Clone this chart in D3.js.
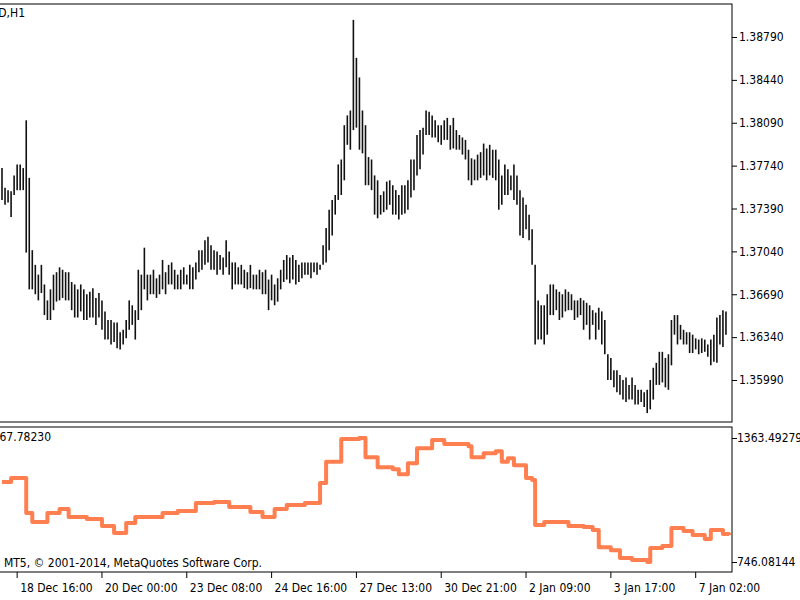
<!DOCTYPE html>
<html>
<head>
<meta charset="utf-8">
<script src="https://cdn.jsdelivr.net/npm/d3@7"></script>
<style>
  body { margin: 0; background: #fff; }
  text { font-family: "Liberation Sans Narrow", "DejaVu Sans Condensed", sans-serif; font-size: 12px; fill: #000; }
</style>
</head>
<body>
<svg id="chart" width="800" height="600"></svg>
<script>

// H1 bars: highs and lows
var highs = [1.3772,1.3756,1.3754,1.3753,1.3766,1.3775,1.3775,1.3772,1.3811,1.3764,
  1.3705,1.3693,1.3685,1.3693,1.3677,1.3664,1.3673,1.3685,1.3687,1.3691,
  1.3689,1.3687,1.3687,1.3679,1.3677,1.3673,1.3677,1.3673,1.3669,1.3671,
  1.3674,1.3666,1.3670,1.3664,1.3655,1.3648,1.3648,1.3646,1.3646,1.3638,
  1.3640,1.3648,1.3664,1.3660,1.3656,1.3689,1.3685,1.3707,1.3685,1.3685,
  1.3689,1.3682,1.3685,1.3697,1.3687,1.3693,1.3695,1.3689,1.3685,1.3689,
  1.3691,1.3685,1.3693,1.3691,1.3695,1.3705,1.3705,1.3713,1.3716,1.3709,
  1.3705,1.3704,1.3701,1.3699,1.3713,1.3704,1.3695,1.3695,1.3691,1.3693,
  1.3689,1.3687,1.3693,1.3685,1.3685,1.3689,1.3687,1.3689,1.3681,1.3685,
  1.3677,1.3682,1.3689,1.3697,1.3701,1.3699,1.3701,1.3697,1.3693,1.3695,
  1.3695,1.3695,1.3695,1.3695,1.3695,1.3693,1.3709,1.3723,1.3738,1.3746,
  1.3750,1.3775,1.3779,1.3807,1.3815,1.3819,1.3893,1.3862,1.3846,1.3819,
  1.3807,1.3781,1.3779,1.3766,1.3762,1.3750,1.3753,1.3761,1.3762,1.3758,
  1.3754,1.3750,1.3758,1.3758,1.3762,1.3779,1.3779,1.3799,1.3803,1.3805,
  1.3819,1.3818,1.3815,1.3811,1.3807,1.3807,1.3811,1.3813,1.3807,1.3813,
  1.3803,1.3799,1.3797,1.3795,1.3787,1.3780,1.3779,1.3783,1.3785,1.3792,
  1.3788,1.3791,1.3787,1.3787,1.3779,1.3766,1.3775,1.3771,1.3766,1.3775,
  1.3766,1.3754,1.3748,1.3742,1.3734,1.3722,1.3693,1.3664,1.3660,1.3660,
  1.3669,1.3677,1.3677,1.3673,1.3671,1.3669,1.3673,1.3671,1.3669,1.3664,
  1.3664,1.3666,1.3664,1.3662,1.3660,1.3656,1.3654,1.3658,1.3655,1.3648,
  1.3620,1.3617,1.3607,1.3607,1.3603,1.3599,1.3601,1.3595,1.3601,1.3595,
  1.3591,1.3591,1.3589,1.3591,1.3599,1.3609,1.3613,1.3622,1.3622,1.3617,
  1.3620,1.3648,1.3652,1.3652,1.3644,1.3640,1.3638,1.3638,1.3636,1.3633,
  1.3632,1.3633,1.3632,1.3628,1.3632,1.3636,1.3650,1.3652,1.3656,1.3655];
var lows = [1.3746,1.3742,1.3744,1.3732,1.3750,1.3754,1.3754,1.3754,1.3703,1.3673,
  1.3673,1.3669,1.3664,1.3670,1.3652,1.3648,1.3648,1.3656,1.3663,1.3664,
  1.3666,1.3664,1.3664,1.3656,1.3650,1.3650,1.3655,1.3648,1.3648,1.3650,
  1.3650,1.3644,1.3650,1.3640,1.3632,1.3632,1.3628,1.3630,1.3625,1.3624,
  1.3628,1.3633,1.3640,1.3644,1.3632,1.3648,1.3656,1.3673,1.3664,1.3669,
  1.3669,1.3666,1.3669,1.3673,1.3669,1.3677,1.3677,1.3673,1.3673,1.3673,
  1.3677,1.3677,1.3673,1.3673,1.3681,1.3687,1.3689,1.3693,1.3695,1.3689,
  1.3689,1.3685,1.3689,1.3685,1.3691,1.3685,1.3673,1.3677,1.3677,1.3677,
  1.3674,1.3673,1.3674,1.3673,1.3673,1.3673,1.3669,1.3669,1.3656,1.3664,
  1.3660,1.3663,1.3673,1.3679,1.3681,1.3678,1.3681,1.3677,1.3679,1.3682,
  1.3685,1.3685,1.3682,1.3687,1.3685,1.3689,1.3693,1.3695,1.3705,1.3717,
  1.3734,1.3746,1.3750,1.3762,1.3791,1.3787,1.3803,1.3805,1.3787,1.3784,
  1.3758,1.3758,1.3754,1.3734,1.3731,1.3734,1.3736,1.3738,1.3742,1.3734,
  1.3734,1.3730,1.3734,1.3735,1.3738,1.3748,1.3754,1.3766,1.3771,1.3783,
  1.3799,1.3799,1.3797,1.3797,1.3793,1.3791,1.3795,1.3795,1.3787,1.3788,
  1.3787,1.3787,1.3783,1.3779,1.3762,1.3758,1.3762,1.3762,1.3764,1.3766,
  1.3762,1.3766,1.3764,1.3762,1.3738,1.3742,1.3750,1.3750,1.3754,1.3746,
  1.3742,1.3717,1.3715,1.3722,1.3713,1.3693,1.3628,1.3632,1.3632,1.3628,
  1.3636,1.3652,1.3652,1.3656,1.3648,1.3650,1.3655,1.3656,1.3656,1.3648,
  1.3650,1.3652,1.3640,1.3644,1.3632,1.3644,1.3632,1.3640,1.3628,1.3620,
  1.3599,1.3599,1.3593,1.3589,1.3587,1.3583,1.3581,1.3583,1.3583,1.3579,
  1.3579,1.3581,1.3577,1.3572,1.3575,1.3583,1.3595,1.3595,1.3597,1.3593,
  1.3591,1.3611,1.3636,1.3628,1.3632,1.3628,1.3628,1.3621,1.3621,1.3624,
  1.3620,1.3621,1.3622,1.3618,1.3611,1.3614,1.3613,1.3628,1.3626,1.3636];

var priceTicks = [1.38790,1.38440,1.38090,1.37740,1.37390,1.37040,1.36690,1.36340,1.35990];

// indicator (lower pane): bar index where value changes, value
var indIdx = [0,3,8,10,15,19,22,28,33,37,41,44,53,58,64,70,75,82,86,90,94,100,105,107,112,118,
  120,124,129,131,134,137,142,146,154,155,159,163,165,167,169,173,175,176,179,185,187,192,195,197,
  201,204,208,213,214,218,221,225,228,232,234,238,240];
var indVal = [1144,1164,990,945,990,1010,970,960,925,890,940,970,990,1000,1040,1045,1020,995,970,1010,1030,1040,1140,1245,1358,1363,
  1268,1218,1208,1183,1238,1313,1353,1333,1323,1268,1288,1298,1245,1263,1228,1164,1154,930,945,945,925,920,905,820,
  805,766,756,746,816,826,915,900,880,860,905,885,880];
var indMax = 1363.49279, indMin = 746.08144;

var timeIdx = [5,33,61,89,117,145,173,201,229];
var timeLabels = ["18 Dec 16:00","20 Dec 00:00","23 Dec 08:00","24 Dec 16:00","27 Dec 13:00",
  "30 Dec 21:00","2 Jan 09:00","3 Jan 17:00","7 Jan 02:00"];

var svg = d3.select('#chart');
var plotRight = 732;

var x = d3.scaleLinear().domain([0, 240]).range([2, 729]);

// main pane
var y = d3.scaleLinear().domain([1.3599, 1.3879]).range([380, 37]);

svg.append('rect').attr('x', -2).attr('y', 4).attr('width', plotRight + 2).attr('height', 418)
  .style('fill', 'none').style('stroke', '#000').style('stroke-width', 1);

svg.append('g').selectAll('line.bar')
  .data(highs)
  .enter().append('line')
  .attr('x1', function(d, i){ return x(i); })
  .attr('x2', function(d, i){ return x(i); })
  .attr('y1', function(d){ return y(d); })
  .attr('y2', function(d, i){ return y(lows[i]); })
  .style('stroke', '#111')
  .style('stroke-width', 1.6);

svg.append('g')
  .attr('transform', 'translate(' + plotRight + ',0)')
  .call(d3.axisRight(y).tickValues(priceTicks).tickSize(5).tickFormat(d3.format('.5f')))
  .call(function(g){ g.select('.domain').remove(); })
  .selectAll('text').attr('x', 7).style('font-size', '12px');

svg.append('text').attr('x', 25).attr('y', 17).attr('text-anchor', 'end').text('EURUSD,H1');

// lower pane
var y2 = d3.scaleLinear().domain([indMin, indMax]).range([562, 438]);

svg.append('rect').attr('x', -2).attr('y', 427).attr('width', plotRight + 2).attr('height', 145)
  .style('fill', 'none').style('stroke', '#000').style('stroke-width', 1);

var ind = indIdx.map(function(d, i){ return {i: d, v: indVal[i]}; });
svg.append('path')
  .datum(ind)
  .attr('d', d3.line().x(function(d){ return x(d.i); }).y(function(d){ return y2(d.v); }).curve(d3.curveStepAfter))
  .style('fill', 'none')
  .style('stroke', '#ff7f50')
  .style('stroke-width', 4)
  .style('stroke-linejoin', 'round');

svg.append('g')
  .attr('transform', 'translate(' + plotRight + ',0)')
  .call(d3.axisRight(y2).tickValues([indMax, indMin]).tickSize(5).tickFormat(d3.format('.5f')))
  .call(function(g){ g.select('.domain').remove(); })
  .selectAll('text').attr('x', 5).style('font-size', '12px');

svg.append('text').attr('x', 51).attr('y', 441).attr('text-anchor', 'end').text('1067.78230');
svg.append('text').attr('x', 262).attr('y', 567).attr('text-anchor', 'end').text('MT5, © 2001-2014, MetaQuotes Software Corp.');

// time axis
var tg = svg.append('g');
timeIdx.forEach(function(d, k){
  tg.append('line').attr('x1', x(d)).attr('x2', x(d)).attr('y1', 572).attr('y2', 578).style('stroke', '#000');
  tg.append('text').attr('x', x(d) + 3).attr('y', 592).text(timeLabels[k]);
});

</script>
</body>
</html>
